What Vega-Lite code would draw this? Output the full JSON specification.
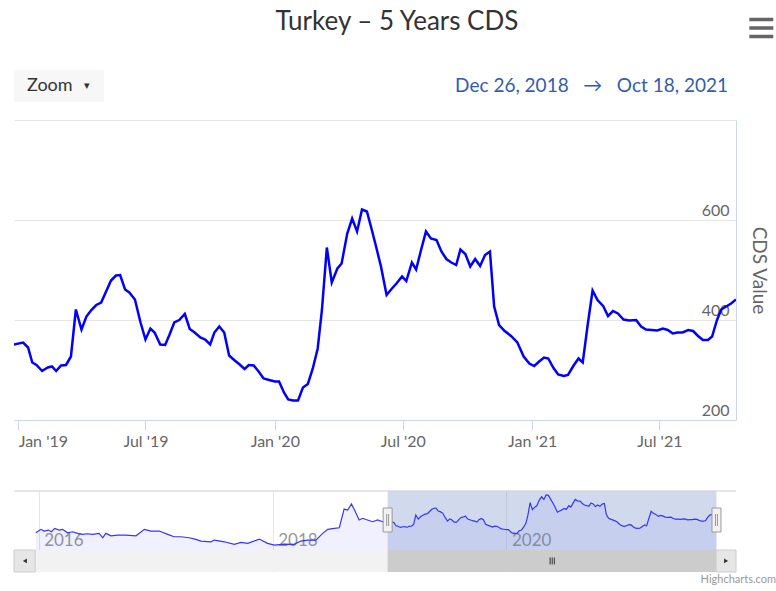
{
  "$schema": "https://vega.github.io/schema/vega-lite/v6.json",
  "background": "white",
  "padding": {"left": 13, "top": 8, "right": 0, "bottom": 0},
  "bounds": "flush",
  "spacing": 71,
  "config": {"font": "Lato", "view": {"stroke": null}},
  "title": {"text": "Turkey – 5 Years CDS", "fontSize": 26, "fontWeight": "normal", "color": "#333333", "anchor": "middle", "dx": 0, "offset": -22},
  "datasets": {
    "cds": [
      {"date": "2015-12-23", "cds": 245}, {"date": "2016-01-08", "cds": 279}, {"date": "2016-01-18", "cds": 262}, {"date": "2016-01-31", "cds": 272},
      {"date": "2016-02-10", "cds": 255}, {"date": "2016-02-20", "cds": 289}, {"date": "2016-03-05", "cds": 272}, {"date": "2016-03-16", "cds": 279},
      {"date": "2016-03-31", "cds": 245}, {"date": "2016-04-16", "cds": 255}, {"date": "2016-05-02", "cds": 239}, {"date": "2016-05-17", "cds": 229},
      {"date": "2016-06-02", "cds": 235}, {"date": "2016-06-17", "cds": 229}, {"date": "2016-07-08", "cds": 239}, {"date": "2016-07-19", "cds": 195},
      {"date": "2016-07-29", "cds": 239}, {"date": "2016-08-14", "cds": 215}, {"date": "2016-09-03", "cds": 222}, {"date": "2016-09-29", "cds": 222},
      {"date": "2016-10-31", "cds": 215}, {"date": "2016-11-26", "cds": 279}, {"date": "2016-12-17", "cds": 262}, {"date": "2017-01-12", "cds": 262},
      {"date": "2017-02-07", "cds": 229}, {"date": "2017-02-27", "cds": 205}, {"date": "2017-03-20", "cds": 205}, {"date": "2017-04-15", "cds": 195},
      {"date": "2017-05-06", "cds": 179}, {"date": "2017-05-22", "cds": 162}, {"date": "2017-06-22", "cds": 155}, {"date": "2017-07-03", "cds": 172},
      {"date": "2017-08-03", "cds": 155}, {"date": "2017-09-03", "cds": 129}, {"date": "2017-09-24", "cds": 149}, {"date": "2017-10-15", "cds": 139},
      {"date": "2017-11-20", "cds": 182}, {"date": "2017-12-16", "cds": 139}, {"date": "2018-01-06", "cds": 122}, {"date": "2018-02-06", "cds": 132},
      {"date": "2018-03-09", "cds": 129}, {"date": "2018-03-30", "cds": 162}, {"date": "2018-04-20", "cds": 172}, {"date": "2018-05-16", "cds": 172},
      {"date": "2018-06-06", "cds": 239}, {"date": "2018-06-22", "cds": 279}, {"date": "2018-07-12", "cds": 289}, {"date": "2018-07-28", "cds": 295},
      {"date": "2018-08-12", "cds": 481}, {"date": "2018-08-23", "cds": 471}, {"date": "2018-09-04", "cds": 531}, {"date": "2018-09-15", "cds": 461},
      {"date": "2018-09-28", "cds": 372}, {"date": "2018-10-09", "cds": 389}, {"date": "2018-10-24", "cds": 372}, {"date": "2018-11-09", "cds": 355},
      {"date": "2018-11-25", "cds": 372}, {"date": "2018-12-10", "cds": 355},
      {"date": "2018-12-26", "cds": 351}, {"date": "2019-01-08", "cds": 355}, {"date": "2019-01-15", "cds": 345}, {"date": "2019-01-21", "cds": 315},
      {"date": "2019-01-27", "cds": 310}, {"date": "2019-02-04", "cds": 298}, {"date": "2019-02-12", "cds": 305}, {"date": "2019-02-18", "cds": 307},
      {"date": "2019-02-24", "cds": 298}, {"date": "2019-03-03", "cds": 309}, {"date": "2019-03-10", "cds": 310}, {"date": "2019-03-17", "cds": 327},
      {"date": "2019-03-24", "cds": 421}, {"date": "2019-04-01", "cds": 381}, {"date": "2019-04-08", "cds": 407}, {"date": "2019-04-15", "cds": 420},
      {"date": "2019-04-22", "cds": 430}, {"date": "2019-04-29", "cds": 435}, {"date": "2019-05-06", "cds": 457}, {"date": "2019-05-13", "cds": 479},
      {"date": "2019-05-20", "cds": 489}, {"date": "2019-05-26", "cds": 490}, {"date": "2019-06-02", "cds": 461}, {"date": "2019-06-08", "cds": 455},
      {"date": "2019-06-16", "cds": 441}, {"date": "2019-06-24", "cds": 395}, {"date": "2019-07-01", "cds": 361}, {"date": "2019-07-08", "cds": 383},
      {"date": "2019-07-14", "cds": 375}, {"date": "2019-07-22", "cds": 351}, {"date": "2019-07-29", "cds": 350}, {"date": "2019-08-04", "cds": 370},
      {"date": "2019-08-11", "cds": 395}, {"date": "2019-08-18", "cds": 400}, {"date": "2019-08-26", "cds": 412}, {"date": "2019-09-02", "cds": 382},
      {"date": "2019-09-09", "cds": 375}, {"date": "2019-09-17", "cds": 365}, {"date": "2019-09-24", "cds": 361}, {"date": "2019-10-01", "cds": 351},
      {"date": "2019-10-07", "cds": 375}, {"date": "2019-10-14", "cds": 387}, {"date": "2019-10-21", "cds": 375}, {"date": "2019-10-28", "cds": 329},
      {"date": "2019-11-05", "cds": 319}, {"date": "2019-11-12", "cds": 311}, {"date": "2019-11-19", "cds": 302}, {"date": "2019-11-25", "cds": 310},
      {"date": "2019-12-02", "cds": 309}, {"date": "2019-12-09", "cds": 297}, {"date": "2019-12-16", "cds": 283}, {"date": "2019-12-24", "cds": 280},
      {"date": "2020-01-01", "cds": 277}, {"date": "2020-01-07", "cds": 277}, {"date": "2020-01-14", "cds": 255}, {"date": "2020-01-20", "cds": 241},
      {"date": "2020-01-27", "cds": 239}, {"date": "2020-02-03", "cds": 239}, {"date": "2020-02-10", "cds": 265}, {"date": "2020-02-17", "cds": 272},
      {"date": "2020-02-24", "cds": 303}, {"date": "2020-03-02", "cds": 343}, {"date": "2020-03-08", "cds": 420}, {"date": "2020-03-15", "cds": 545},
      {"date": "2020-03-22", "cds": 475}, {"date": "2020-03-30", "cds": 503}, {"date": "2020-04-05", "cds": 513}, {"date": "2020-04-13", "cds": 573},
      {"date": "2020-04-20", "cds": 603}, {"date": "2020-04-27", "cds": 577}, {"date": "2020-05-04", "cds": 621}, {"date": "2020-05-11", "cds": 617},
      {"date": "2020-05-18", "cds": 580}, {"date": "2020-05-24", "cds": 547}, {"date": "2020-05-31", "cds": 507}, {"date": "2020-06-08", "cds": 450},
      {"date": "2020-06-15", "cds": 462}, {"date": "2020-06-22", "cds": 473}, {"date": "2020-06-30", "cds": 487}, {"date": "2020-07-06", "cds": 478},
      {"date": "2020-07-14", "cds": 515}, {"date": "2020-07-20", "cds": 501}, {"date": "2020-07-27", "cds": 540}, {"date": "2020-08-03", "cds": 577},
      {"date": "2020-08-10", "cds": 563}, {"date": "2020-08-18", "cds": 560}, {"date": "2020-08-25", "cds": 537}, {"date": "2020-09-01", "cds": 522},
      {"date": "2020-09-08", "cds": 515}, {"date": "2020-09-15", "cds": 510}, {"date": "2020-09-21", "cds": 541}, {"date": "2020-09-28", "cds": 532},
      {"date": "2020-10-05", "cds": 507}, {"date": "2020-10-12", "cds": 522}, {"date": "2020-10-19", "cds": 508}, {"date": "2020-10-26", "cds": 530},
      {"date": "2020-11-02", "cds": 537}, {"date": "2020-11-08", "cds": 427}, {"date": "2020-11-15", "cds": 390}, {"date": "2020-11-23", "cds": 378},
      {"date": "2020-12-02", "cds": 368}, {"date": "2020-12-11", "cds": 355}, {"date": "2020-12-20", "cds": 327}, {"date": "2020-12-28", "cds": 313},
      {"date": "2021-01-04", "cds": 308}, {"date": "2021-01-11", "cds": 317}, {"date": "2021-01-18", "cds": 325}, {"date": "2021-01-24", "cds": 323},
      {"date": "2021-01-31", "cds": 305}, {"date": "2021-02-07", "cds": 291}, {"date": "2021-02-15", "cds": 288}, {"date": "2021-02-21", "cds": 290},
      {"date": "2021-03-01", "cds": 309}, {"date": "2021-03-08", "cds": 323}, {"date": "2021-03-14", "cds": 315}, {"date": "2021-03-21", "cds": 390},
      {"date": "2021-03-28", "cds": 459}, {"date": "2021-04-04", "cds": 440}, {"date": "2021-04-12", "cds": 428}, {"date": "2021-04-19", "cds": 408},
      {"date": "2021-04-26", "cds": 418}, {"date": "2021-05-03", "cds": 413}, {"date": "2021-05-11", "cds": 401}, {"date": "2021-05-19", "cds": 399},
      {"date": "2021-05-29", "cds": 400}, {"date": "2021-06-05", "cds": 387}, {"date": "2021-06-12", "cds": 381}, {"date": "2021-06-20", "cds": 380},
      {"date": "2021-06-28", "cds": 379}, {"date": "2021-07-06", "cds": 383}, {"date": "2021-07-13", "cds": 380}, {"date": "2021-07-20", "cds": 373},
      {"date": "2021-07-27", "cds": 375}, {"date": "2021-08-03", "cds": 375}, {"date": "2021-08-11", "cds": 380}, {"date": "2021-08-18", "cds": 378},
      {"date": "2021-08-25", "cds": 368}, {"date": "2021-09-01", "cds": 360}, {"date": "2021-09-08", "cds": 360}, {"date": "2021-09-14", "cds": 367},
      {"date": "2021-09-21", "cds": 400}, {"date": "2021-09-27", "cds": 421}, {"date": "2021-10-04", "cds": 427}, {"date": "2021-10-11", "cds": 433},
      {"date": "2021-10-18", "cds": 441}
    ]
  },
  "vconcat": [
    {
      "width": 722,
      "height": 300,
      "layer": [
        {
          "data": {"name": "cds"},
          "mark": {"type": "line", "color": "#0000ff", "strokeWidth": 2.5, "clip": true},
          "encoding": {
            "x": {"field": "date", "type": "temporal",
              "scale": {"domain": [{"year": 2018, "month": 12, "date": 26, "utc": true}, {"year": 2021, "month": 10, "date": 18, "utc": true}]},
              "axis": {"title": null, "format": "%b '%y", "tickCount": {"interval": "month", "step": 6}, "grid": false,
                "domainColor": "#ccd6eb", "tickColor": "#ccd6eb", "tickSize": 10, "labelColor": "#666666", "labelFontSize": 16,
                "labelPadding": 3, "labelFlush": 10, "labelOverlap": false}},
            "y": {"field": "cds", "type": "quantitative",
              "scale": {"domain": [200, 800], "nice": false, "zero": false},
              "axis": {"orient": "right", "values": [200, 400, 600, 800], "labelExpr": "datum.value == 800 ? '' : datum.label",
                "grid": true, "gridColor": "#e6e6e6", "domainColor": "#ccd6eb", "ticks": false, "tickSize": 0,
                "labelAlign": "right", "labelBaseline": "bottom", "labelPadding": -7, "labelOffset": -2,
                "labelColor": "#666666", "labelFontSize": 16,
                "title": "CDS Value", "titleFontSize": 19, "titleFontWeight": "normal", "titleColor": "#666666", "titlePadding": 12}}
          }
        },
        {
          "data": {"values": [{}]},
          "mark": {"type": "rect", "fill": "#f7f7f7", "cornerRadius": 2, "clip": false},
          "encoding": {
            "x": {"datum": {"year": 2018, "month": 12, "date": 26, "utc": true}, "type": "temporal"},
            "x2": {"datum": {"year": 2019, "month": 5, "date": 3, "utc": true}},
            "y": {"datum": 900, "type": "quantitative"},
            "y2": {"datum": 836}
          }
        },
        {
          "data": {"values": [{}]},
          "mark": {"type": "text", "text": "Zoom", "align": "left", "baseline": "middle", "fontSize": 18, "color": "#333333", "dx": 13, "clip": false},
          "encoding": {
            "x": {"datum": {"year": 2018, "month": 12, "date": 26, "utc": true}, "type": "temporal"},
            "y": {"datum": 868, "type": "quantitative"}
          }
        },
        {
          "data": {"values": [{}]},
          "mark": {"type": "text", "text": "▾", "align": "left", "baseline": "middle", "fontSize": 11, "color": "#333333", "dx": 70, "clip": false},
          "encoding": {
            "x": {"datum": {"year": 2018, "month": 12, "date": 26, "utc": true}, "type": "temporal"},
            "y": {"datum": 868, "type": "quantitative"}
          }
        },
        {
          "data": {"values": [{}]},
          "mark": {"type": "text", "text": "Dec 26, 2018 \u00a0\u00a0→\u00a0\u00a0 Oct 18, 2021", "align": "right", "baseline": "middle", "fontSize": 19, "color": "#335cad", "dx": -8, "clip": false},
          "encoding": {
            "x": {"datum": {"year": 2021, "month": 10, "date": 18, "utc": true}, "type": "temporal"},
            "y": {"datum": 868, "type": "quantitative"}
          }
        },
        {
          "data": {"values": [{}]},
          "mark": {"type": "point", "shape": "M-1,-0.7H1M-1,0H1M-1,0.7H1", "filled": false, "stroke": "#666666", "strokeWidth": 3.5, "size": 576, "opacity": 1, "clip": false},
          "encoding": {
            "x": {"datum": {"year": 2021, "month": 11, "date": 23, "utc": true}, "type": "temporal"},
            "y": {"datum": 984, "type": "quantitative"}
          }
        }
      ]
    },
    {
      "width": 722,
      "height": 81,
      "encoding": {
        "x": {"type": "temporal", "scale": {"domain": [{"year": 2015, "month": 10, "date": 16, "utc": true}, {"year": 2021, "month": 12, "date": 18, "utc": true}]}},
        "y": {"type": "quantitative", "scale": {"domain": [-146, 661], "nice": false, "zero": false}, "axis": null}
      },
      "layer": [
        {
          "data": {"name": "cds"},
          "mark": {"type": "area", "color": "#0000ff", "opacity": 0.06, "clip": true},
          "encoding": {
            "x": {"field": "date", "type": "temporal",
              "axis": {"orient": "top", "title": null, "values": [{"year": 2016, "month": 1, "date": 1, "utc": true}, {"year": 2018, "month": 1, "date": 1, "utc": true}, {"year": 2020, "month": 1, "date": 1, "utc": true}],
                "format": "%Y", "grid": true, "gridColor": "#e6e6e6", "domain": false, "ticks": false, "tickSize": 0,
                "labelAlign": "left", "labelBaseline": "alphabetic", "labelPadding": -54, "labelOffset": 5, "labelColor": "#999999", "labelFontSize": 17}},
            "y": {"field": "cds", "type": "quantitative"},
            "y2": {"datum": 73}
          }
        },
        {
          "data": {"values": [{}]},
          "mark": {"type": "rect", "fill": "#6685c2", "opacity": 0.3},
          "encoding": {
            "x": {"datum": {"year": 2018, "month": 12, "date": 26, "utc": true}, "type": "temporal"},
            "x2": {"datum": {"year": 2021, "month": 10, "date": 18, "utc": true}},
            "y": {"datum": 661, "type": "quantitative"},
            "y2": {"datum": 73}
          }
        },
        {
          "data": {"name": "cds"},
          "mark": {"type": "line", "color": "#3535ff", "strokeWidth": 1.2, "clip": true},
          "encoding": {
            "x": {"field": "date", "type": "temporal"},
            "y": {"field": "cds", "type": "quantitative"}
          }
        },
        {
          "data": {"values": [{}]},
          "mark": {"type": "rule", "color": "#cccccc", "strokeWidth": 1},
          "encoding": {"y": {"datum": 661, "type": "quantitative"}}
        },
        {
          "data": {"values": [{}]},
          "mark": {"type": "rect", "fill": "#f2f2f2"},
          "encoding": {
            "x": {"datum": {"year": 2015, "month": 10, "date": 16, "utc": true}, "type": "temporal"},
            "x2": {"datum": {"year": 2021, "month": 12, "date": 18, "utc": true}},
            "y": {"datum": 73, "type": "quantitative"},
            "y2": {"datum": -146}
          }
        },
        {
          "data": {"values": [{}]},
          "mark": {"type": "rect", "fill": "#cccccc"},
          "encoding": {
            "x": {"datum": {"year": 2018, "month": 12, "date": 26, "utc": true}, "type": "temporal"},
            "x2": {"datum": {"year": 2021, "month": 10, "date": 18, "utc": true}},
            "y": {"datum": 73, "type": "quantitative"},
            "y2": {"datum": -146}
          }
        },
        {
          "data": {"values": [{}]},
          "mark": {"type": "rect", "fill": "#e6e6e6", "stroke": "#cccccc", "strokeWidth": 1},
          "encoding": {
            "x": {"datum": {"year": 2015, "month": 10, "date": 16, "utc": true}, "type": "temporal"},
            "x2": {"datum": {"year": 2015, "month": 12, "date": 21, "utc": true}},
            "y": {"datum": 73, "type": "quantitative"},
            "y2": {"datum": -146}
          }
        },
        {
          "data": {"values": [{}]},
          "mark": {"type": "rect", "fill": "#e6e6e6", "stroke": "#cccccc", "strokeWidth": 1},
          "encoding": {
            "x": {"datum": {"year": 2021, "month": 10, "date": 17, "utc": true}, "type": "temporal"},
            "x2": {"datum": {"year": 2021, "month": 12, "date": 18, "utc": true}},
            "y": {"datum": 73, "type": "quantitative"},
            "y2": {"datum": -146}
          }
        },
        {
          "data": {"values": [{}]},
          "mark": {"type": "point", "shape": "triangle-left", "filled": true, "color": "#333333", "size": 22, "opacity": 1},
          "encoding": {
            "x": {"datum": {"year": 2015, "month": 11, "date": 19, "utc": true}, "type": "temporal"},
            "y": {"datum": -36, "type": "quantitative"}
          }
        },
        {
          "data": {"values": [{}]},
          "mark": {"type": "point", "shape": "triangle-right", "filled": true, "color": "#333333", "size": 22, "opacity": 1},
          "encoding": {
            "x": {"datum": {"year": 2021, "month": 11, "date": 17, "utc": true}, "type": "temporal"},
            "y": {"datum": -36, "type": "quantitative"}
          }
        },
        {
          "data": {"values": [{}]},
          "mark": {"type": "point", "shape": "M-0.6,-1V1M0,-1V1M0.6,-1V1", "filled": false, "stroke": "#333333", "strokeWidth": 1, "size": 49, "opacity": 1},
          "encoding": {
            "x": {"datum": {"year": 2020, "month": 5, "date": 23, "utc": true}, "type": "temporal"},
            "y": {"datum": -36, "type": "quantitative"}
          }
        },
        {
          "data": {"values": [{"edge": "2018-12-26"}, {"edge": "2021-10-18"}]},
          "mark": {"type": "point", "shape": "M-0.375,-1H0.375V1H-0.375Z M-0.08,-0.5V0.5 M0.08,-0.5V0.5", "filled": false, "fill": "#f2f2f2", "fillOpacity": 1, "stroke": "#999999", "strokeWidth": 1, "size": 576, "opacity": 1},
          "encoding": {
            "x": {"field": "edge", "type": "temporal"},
            "y": {"datum": 372, "type": "quantitative"}
          }
        },
        {
          "data": {"values": [{}]},
          "mark": {"type": "text", "text": "Highcharts.com", "align": "right", "baseline": "middle", "fontSize": 11, "color": "#999999", "dx": 40, "clip": false},
          "encoding": {
            "x": {"datum": {"year": 2021, "month": 12, "date": 18, "utc": true}, "type": "temporal"},
            "y": {"datum": -226, "type": "quantitative"}
          }
        }
      ]
    }
  ]
}
